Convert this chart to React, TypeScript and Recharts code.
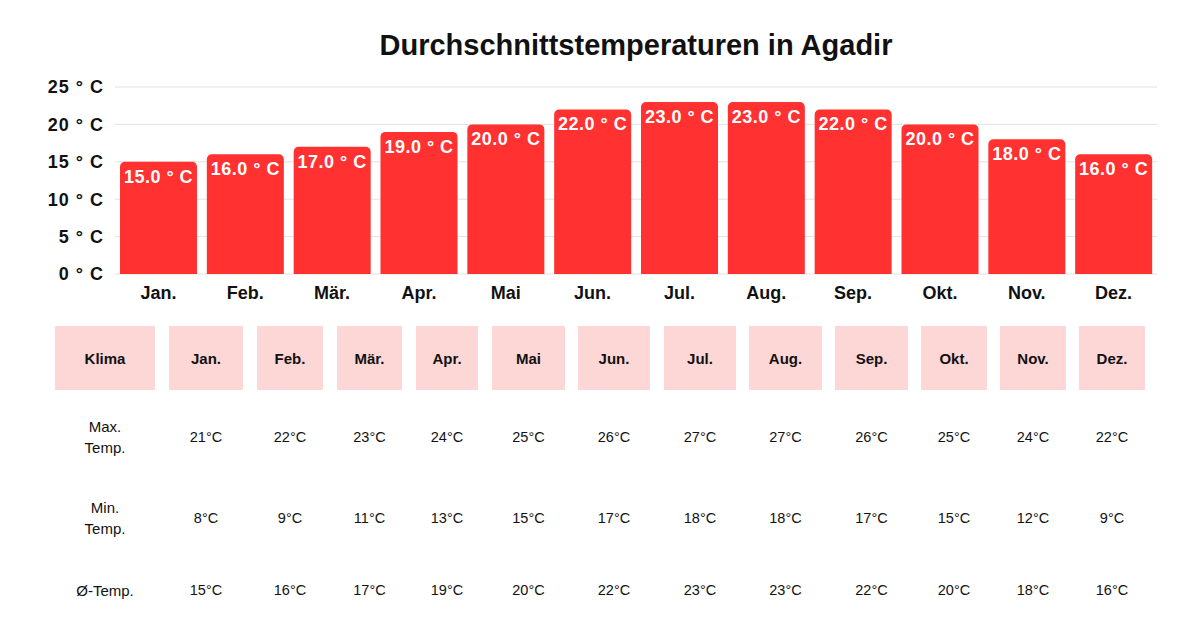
import React from 'react';
import { BarChart, Bar, XAxis, YAxis, CartesianGrid, LabelList } from 'recharts';

const months = ['Jan.', 'Feb.', 'Mär.', 'Apr.', 'Mai', 'Jun.', 'Jul.', 'Aug.', 'Sep.', 'Okt.', 'Nov.', 'Dez.'];
const avgTemp = [15, 16, 17, 19, 20, 22, 23, 23, 22, 20, 18, 16];
const maxTemp = [21, 22, 23, 24, 25, 26, 27, 27, 26, 25, 24, 22];
const minTemp = [8, 9, 11, 13, 15, 17, 18, 18, 17, 15, 12, 9];
const yTicks = [0, 5, 10, 15, 20, 25];
const tableHeader = 'Klima';
const rowLabels = ['Max.\nTemp.', 'Min.\nTemp.', 'Ø-Temp.'];
const title = 'Durchschnittstemperaturen in Agadir';

const chartData = months.map((m, i) => ({ month: m, avg: avgTemp[i] }));

// layout constants for the table (styling, not data)
const colLeft = [55, 169, 257, 337, 416, 492, 578, 664, 749, 835, 921, 1000, 1079];
const colRight = [155, 243, 323, 402, 478, 565, 650, 736, 822, 908, 987, 1066, 1145];
const rowCenters = [437, 518, 590];

const FONT = '"Liberation Sans", Arial, sans-serif';
const RED = '#FF3131';
const PINK = '#FDD6D6';

export default function App() {
  const rows = [maxTemp, minTemp, avgTemp];
  return (
    <div style={{ position: 'absolute', left: 0, top: 0, width: 1200, height: 630, background: '#fff', fontFamily: FONT, overflow: 'hidden' }}>
      <div style={{ position: 'absolute', left: 0, width: 1272, top: 27, textAlign: 'center', fontSize: 29, fontWeight: 700, color: '#111', lineHeight: '36px' }}>
        {title}
      </div>
      <div style={{ position: 'absolute', left: 0, top: 0 }}>
        <BarChart width={1200} height={310} data={chartData} margin={{ top: 87, right: 43, bottom: 6, left: 0 }} barCategoryGap={5}>
          <CartesianGrid vertical={false} stroke="#e2e2e2" />
          <XAxis
            dataKey="month"
            axisLine={false}
            tickLine={false}
            tickSize={0}
            tickMargin={12}
            height={30}
            interval={0}
            tick={{ fill: '#111', fontSize: 18, fontWeight: 700, fontFamily: FONT }}
          />
          <YAxis
            domain={[0, 25]}
            ticks={yTicks}
            width={115}
            axisLine={false}
            tickLine={false}
            tickSize={0}
            tickMargin={11}
            tickFormatter={(v: number) => `${v} ° C`}
            tick={{ fill: '#111', fontSize: 18, fontWeight: 700, fontFamily: FONT, letterSpacing: 1 }}
          />
          <Bar dataKey="avg" fill={RED} radius={[5, 5, 0, 0]} isAnimationActive={false}>
            <LabelList
              dataKey="avg"
              position="insideTop"
              offset={8}
              formatter={(v: number) => `${v.toFixed(1)} ° C`}
              style={{ fill: '#fff', fontSize: 18, fontWeight: 700, fontFamily: FONT, letterSpacing: 0.5 }}
            />
          </Bar>
        </BarChart>
      </div>
      {[tableHeader, ...months].map((h, i) => (
        <div
          key={'h' + i}
          style={{
            position: 'absolute',
            left: colLeft[i],
            width: colRight[i] - colLeft[i],
            top: 326,
            height: 64,
            background: PINK,
            display: 'flex',
            alignItems: 'center',
            justifyContent: 'center',
            fontSize: 15,
            fontWeight: 700,
            color: '#111',
          }}
        >
          {h}
        </div>
      ))}
      {rows.map((vals, r) => (
        <React.Fragment key={'r' + r}>
          <div
            style={{
              position: 'absolute',
              left: colLeft[0],
              width: colRight[0] - colLeft[0],
              top: rowCenters[r] - 30,
              height: 60,
              display: 'flex',
              alignItems: 'center',
              justifyContent: 'center',
              textAlign: 'center',
              whiteSpace: 'pre-line',
              fontSize: 15,
              lineHeight: '21px',
              color: '#111',
            }}
          >
            {rowLabels[r]}
          </div>
          {vals.map((v, i) => (
            <div
              key={i}
              style={{
                position: 'absolute',
                left: colLeft[i + 1],
                width: colRight[i + 1] - colLeft[i + 1],
                top: rowCenters[r] - 30,
                height: 60,
                display: 'flex',
                alignItems: 'center',
                justifyContent: 'center',
                fontSize: 14.5,
                color: '#111',
              }}
            >
              {`${v}°C`}
            </div>
          ))}
        </React.Fragment>
      ))}
    </div>
  );
}
